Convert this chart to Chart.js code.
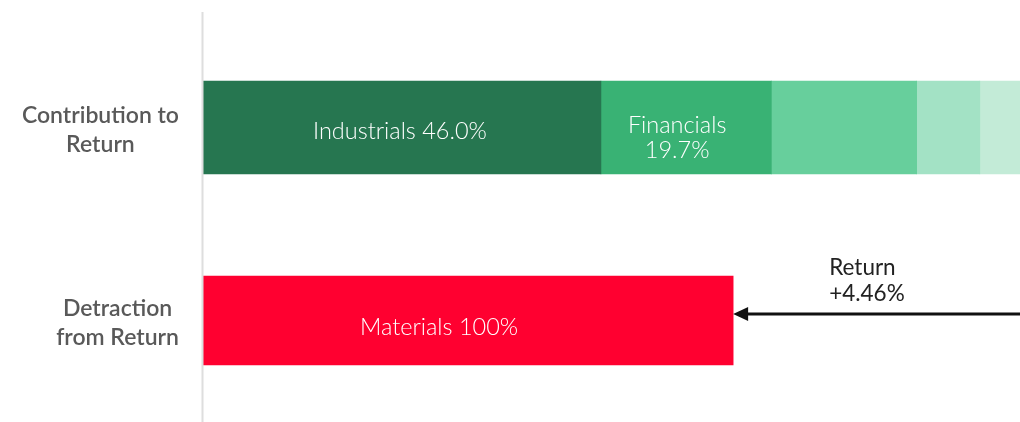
<!DOCTYPE html>
<html>
<head>
<meta charset="utf-8">
<script src="https://cdn.jsdelivr.net/npm/chart.js@4"></script>
<style>
  html, body { margin: 0; padding: 0; background: #fff; }
  #wrap { width: 1020px; height: 422px; }
</style>
</head>
<body>
<div id="wrap"><canvas id="returnChart" width="1020" height="422"></canvas></div>
<script>
// data
const rowLabels = [['Contribution to', 'Return'], ['Detraction', 'from Return']];
const contribSectors = ['Industrials', 'Financials', '', '', ''];
const contribShares = [46.0, 19.7, 16.8, 7.3, 10.2];   // % of total contribution
const contribColors = ['#267650', '#39b274', '#67cf9c', '#a3e2c5', '#c3ebd7'];
const detractSectors = ['Materials'];
const detractShares = [100];
const totalContribution = 11.52;  // estimated, % points
const totalReturn = 4.46;
const totalDetraction = totalContribution - totalReturn;

const labelFont = '300 23.5px Lato';

// datasets: one per sector, stacked
const datasets = [];
contribSectors.forEach((name, i) => {
  datasets.push({
    label: name,
    data: [contribShares[i] / 100 * totalContribution, null],
    backgroundColor: contribColors[i],
    barThickness: 93,
    share: contribShares[i]
  });
});
detractSectors.forEach((name, i) => {
  datasets.push({
    label: name,
    data: [null, detractShares[i] / 100 * totalDetraction],
    backgroundColor: '#ff0030',
    barThickness: 89,
    share: detractShares[i]
  });
});

// small nudges so text sits like the original
const nudge = { 'Industrials': [-2, 0], 'Financials': [-9, 0], 'Materials': [-29, 3] };

const barText = {
  id: 'barText',
  afterDatasetsDraw(chart) {
    const ctx = chart.ctx;
    ctx.save();
    ctx.font = labelFont;
    ctx.fillStyle = '#ffffff';
    ctx.textAlign = 'center';
    ctx.textBaseline = 'alphabetic';
    chart.data.datasets.forEach((ds, di) => {
      if (!ds.label) return;
      const meta = chart.getDatasetMeta(di);
      meta.data.forEach((bar, j) => {
        if (ds.data[j] == null) return;
        const txt = ds.label + ' ' + (ds.share === 100 ? '100' : ds.share.toFixed(1)) + '%';
        const w = Math.abs(bar.x - bar.base);
        const n = nudge[ds.label] || [0, 0];
        const cx = (bar.x + bar.base) / 2 + n[0];
        if (ctx.measureText(txt).width + 20 < w) {
          ctx.fillText(txt, cx, bar.y + 11 + n[1]);
        } else {
          const pct = ds.share.toFixed(1) + '%';
          ctx.fillText(ds.label, cx, bar.y + 5 + n[1]);
          ctx.fillText(pct, cx, bar.y + 30 + n[1]);
        }
      });
    });
    ctx.restore();
  }
};

const sideLabels = {
  id: 'sideLabels',
  afterDraw(chart) {
    const ctx = chart.ctx;
    const y = chart.scales.y;
    ctx.save();
    ctx.font = '600 23px Lato';
    ctx.fillStyle = '#595959';
    ctx.textAlign = 'center';
    rowLabels.forEach((lines, i) => {
      const cy = y.getPixelForValue(i);
      const maxW = Math.max(...lines.map(l => ctx.measureText(l).width));
      const cx = 179 - maxW / 2;
      lines.forEach((l, k) => ctx.fillText(l, cx, cy - 5 + k * 29.5));
    });
    // axis line
    ctx.strokeStyle = '#dedede';
    ctx.lineWidth = 2;
    ctx.beginPath();
    ctx.moveTo(chart.chartArea.left - 0.5, 12);
    ctx.lineTo(chart.chartArea.left - 0.5, 422);
    ctx.stroke();
    ctx.restore();
  }
};

const returnArrow = {
  id: 'returnArrow',
  afterDraw(chart) {
    const ctx = chart.ctx;
    const x = chart.scales.x, y = chart.scales.y;
    const x0 = Math.min(x.getPixelForValue(totalContribution), chart.chartArea.right);
    const x1 = x.getPixelForValue(totalDetraction);
    const ay = y.getPixelForValue(1) - 6.5;
    ctx.save();
    ctx.strokeStyle = '#111';
    ctx.fillStyle = '#111';
    ctx.lineWidth = 3;
    ctx.beginPath();
    ctx.moveTo(x0, ay);
    ctx.lineTo(x1 + 12, ay);
    ctx.stroke();
    ctx.beginPath();
    ctx.moveTo(x1, ay);
    ctx.lineTo(x1 + 15, ay - 7);
    ctx.lineTo(x1 + 15, ay + 7);
    ctx.closePath();
    ctx.fill();
    ctx.font = '400 22.5px Lato';
    ctx.fillStyle = '#222';
    ctx.textAlign = 'left';
    ctx.fillText('Return', x1 + 96, ay - 39);
    ctx.fillText('+' + totalReturn.toFixed(2) + '%', x1 + 96, ay - 13);
    ctx.restore();
  }
};

const chart = new Chart(document.getElementById('returnChart').getContext('2d'), {
  type: 'bar',
  data: { labels: rowLabels, datasets: datasets },
  options: {
    indexAxis: 'y',
    responsive: false,
    animation: false,
    layout: { padding: { top: 31, bottom: 5, left: 0, right: 0 } },
    plugins: { legend: { display: false }, tooltip: { enabled: false } },
    elements: { bar: { borderWidth: 0 } },
    scales: {
      x: {
        stacked: true, display: false,
        min: 0, max: 10.88
      },
      y: {
        stacked: true,
        ticks: { display: false },
        grid: { display: false },
        border: { display: false },
        afterFit: s => { s.width = 203; }
      }
    }
  },
  plugins: [barText, sideLabels, returnArrow]
});
</script>
</body>
</html>
